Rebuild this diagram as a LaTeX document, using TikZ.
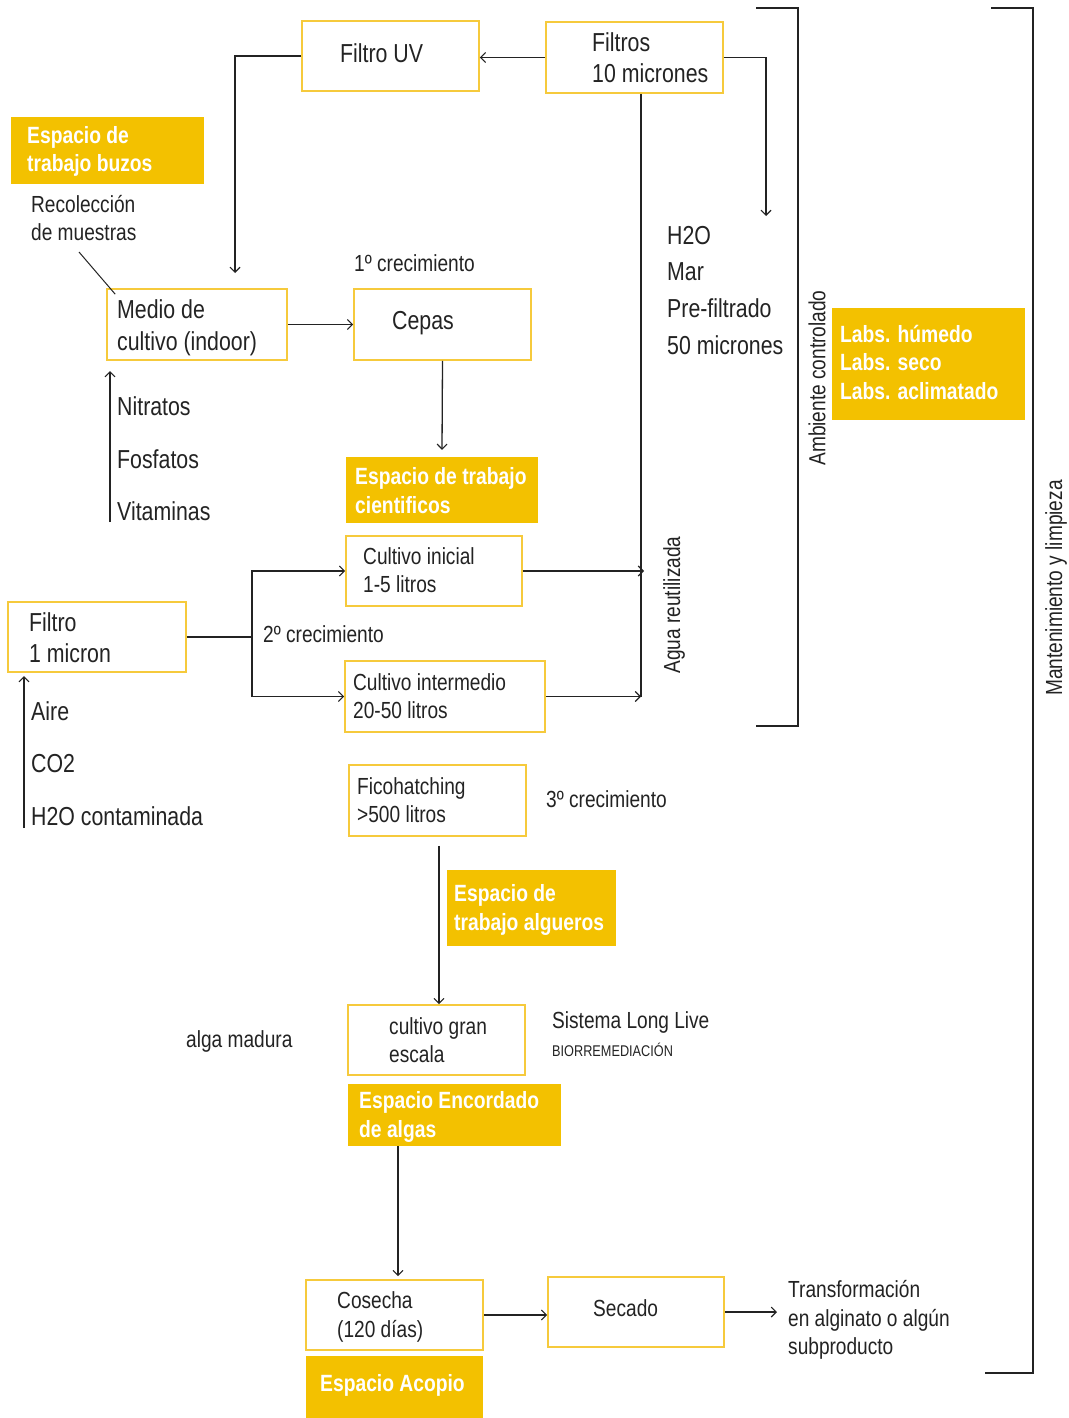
\documentclass[tikz,border=0pt]{standalone}
\usepackage{fontspec}
\setmainfont[FakeStretch=0.82]{Liberation Sans}
\usetikzlibrary{arrows.meta}
\definecolor{yfill}{RGB}{243,193,0}
\definecolor{yline}{RGB}{246,202,60}
\definecolor{ln}{RGB}{35,35,35}
\begin{document}
\begin{tikzpicture}[x=1pt,y=-1pt,
  box/.style={draw=yline,line width=1.6pt,inner sep=0pt},
  ybox/.style={fill=yfill,inner sep=0pt},
  big/.style={anchor=west,inner sep=0pt,align=left,text=ln,font=\fontsize{26}{31.5}\selectfont},
  sml/.style={anchor=west,inner sep=0pt,align=left,text=ln,font=\fontsize{23.3}{28.5}\selectfont},
  bld/.style={anchor=west,inner sep=0pt,align=left,text=white,font=\bfseries\fontsize{23.5}{28.5}\selectfont},
  con/.style={draw=ln,line width=1.3pt},
  arr/.style={con,-{Straight Barb[length=5pt,width=10pt,line width=1.1pt]}},
  brk/.style={draw=ln,line width=1.5pt}]
\useasboundingbox (0,0) rectangle (1068,1418);
\fill[white] (0,0) rectangle (1068,1418);

% boxes
\node[box,minimum width=177,minimum height=70] (uv) at (390.5,56) {};
\node[box,minimum width=177,minimum height=71] (f10) at (634.5,57.5) {};
\node[box,minimum width=180,minimum height=71] (medio) at (197,324.5) {};
\node[box,minimum width=177,minimum height=71] (cepas) at (442.5,324.5) {};
\node[box,minimum width=176,minimum height=70] (cini) at (434,571) {};
\node[box,minimum width=178,minimum height=70] (f1) at (97,637) {};
\node[box,minimum width=200,minimum height=71] (cint) at (445,696.5) {};
\node[box,minimum width=177,minimum height=71] (fico) at (437.5,800.5) {};
\node[box,minimum width=177,minimum height=70] (gran) at (436.5,1040) {};
\node[box,minimum width=177,minimum height=70] (cos) at (394.5,1315) {};
\node[box,minimum width=176,minimum height=70] (sec) at (636,1312) {};

% yellow boxes
\node[ybox,minimum width=193,minimum height=67] (buzos) at (107.5,150.5) {};
\node[ybox,minimum width=192,minimum height=66] (cient) at (442,490) {};
\node[ybox,minimum width=193,minimum height=112] (labs) at (928.5,364) {};
\node[ybox,minimum width=169,minimum height=76] (alg) at (531.5,908) {};
\node[ybox,minimum width=213,minimum height=62] (enc) at (454.5,1115) {};
\node[ybox,minimum width=177,minimum height=62] (acop) at (394.5,1387) {};

% texts
\node[big] (tuv) at (340,53) {Filtro UV};
\node[big] (tf10) at (592,57.5) {Filtros\\10 micrones};
\node[bld] (tbuzos) at (27,151.5) {Espacio de\\trabajo buzos};
\node[sml] (trec) at (31,218) {Recolección\\de muestras};
\node[big] (tmedio) at (117,328) {Medio de\\cultivo (indoor)};
\node[sml] (tc1) at (354,263) {1º crecimiento};
\node[big] (tcepas) at (392,323) {Cepas};
\node[bld] (tcient) at (355,490.5) {Espacio de trabajo\\cientificos};
\node[big] (tnit) at (117,406) {Nitratos};
\node[big] (tfos) at (117,459) {Fosfatos};
\node[big] (tvit) at (117,511) {Vitaminas};
\node[big] (th2o) at (667,236) {H2O};
\node[big] (tmar) at (667,272) {Mar};
\node[big] (tpre) at (667,308) {Pre-filtrado};
\node[big] (t50) at (667,345) {50 micrones};
\node[sml,anchor=center,rotate=90] (tamb) at (817,378) {Ambiente controlado};
\node[bld] (tlabs) at (840,362) {Labs. húmedo\\Labs. seco\\Labs. aclimatado};
\node[sml] (tcini) at (363,570) {Cultivo inicial\\1-5 litros};
\node[big] (tf1) at (29,637.5) {Filtro\\1 micron};
\node[sml] (tc2) at (263,634) {2º crecimiento};
\node[sml] (tcint) at (353,696) {Cultivo intermedio\\20-50 litros};
\node[sml,anchor=center,rotate=90] (tagua) at (674,605) {Agua reutilizada};
\node[big] (taire) at (31,711) {Aire};
\node[big] (tco2) at (31,764) {CO2};
\node[big] (th2oc) at (31,816) {H2O contaminada};
\node[sml] (tfico) at (357,800) {Ficohatching\\>500 litros};
\node[sml] (tc3) at (546,799) {3º crecimiento};
\node[bld] (talg) at (454,910) {Espacio de\\trabajo algueros};
\node[sml] (tgran) at (389,1040) {cultivo gran\\escala};
\node[sml] (tmad) at (186,1041) {alga madura};
\node[sml] (tsis) at (552,1022) {Sistema Long Live};
\node[anchor=west,inner sep=0pt,text=ln,font=\fontsize{15.5}{18}\selectfont] (tbio) at (552,1050) {BIORREMEDIACIÓN};
\node[bld] (tenc) at (359,1117) {Espacio Encordado\\de algas};
\node[sml] (tcos) at (337,1317) {Cosecha\\(120 días)};
\node[sml] (tsec) at (593,1308) {Secado};
\node[sml] (ttra) at (788,1320) {Transformación\\en alginato o algún\\subproducto};
\node[bld] (tacop) at (320,1385) {Espacio Acopio};
\node[sml,anchor=center,rotate=90] (tman) at (1056,588) {Mantenimiento y limpieza};

% coordinates
\coordinate (m1) at (235,273);
\coordinate (h2oin) at (766,216);
\coordinate (agua) at (641,697);
\coordinate (sp) at (252,637);
\coordinate (rc) at (79,252);
\coordinate (nb) at (110,522);
\coordinate (nt) at (110,371);
\coordinate (ab) at (24,828);
\coordinate (at) at (24,676);

% connectors
\draw[arr] (f10.west) -- (f10.west -| uv.east);
\draw[arr] (uv.west) -| (m1);
\draw[arr] (f10.east) -| (h2oin);
\draw[con] (f10.south -| agua) -- (agua);
\draw[arr] (cini.east) -- ([xshift=3pt]cini.east -| agua);
\draw[arr] (cint.east) -- (cint.east -| agua);
\draw[arr] (medio.east) -- (cepas.west);
\draw[arr] (cepas.south) -- ([yshift=7pt]cient.north);
\draw[con] (f1.east) -- (sp);
\draw[arr] (sp) |- (cini.west);
\draw[arr] (sp) |- (cint.west);
\draw[arr] ([xshift=1.5pt,yshift=-9pt]fico.south) -- ([xshift=2.5pt]gran.north);
\draw[arr] ([xshift=-56.5pt]enc.south) -- ([xshift=3.5pt,yshift=3pt]cos.north);
\draw[arr] (cos.east) -- (cos.east -| sec.west);
\draw[arr] (sec.east) -- ([xshift=-11pt]sec.east -| ttra.west);
\draw[con,line width=1pt] (rc) -- ([xshift=9pt,yshift=-6pt]medio.north west);
\draw[arr] (nb) -- (nt);
\draw[arr] (ab) -- (at);

% brackets
\draw[brk] (756,8) -- (798,8) -- (798,726) -- (756,726);
\draw[brk] (991,8) -- (1033,8) -- (1033,1373) -- (985,1373);
\end{tikzpicture}
\end{document}
